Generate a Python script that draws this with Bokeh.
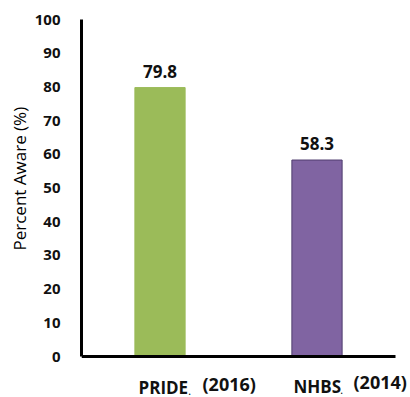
from bokeh.plotting import figure
from bokeh.models import ColumnDataSource, Range1d, FixedTicker, LabelSet, Label, Title
from bokeh.core.properties import value
from bokeh.embed import file_html
from bokeh.resources import INLINE

# Awareness survey results
sources = ["PRIDE", "NHBS"]
years = ["(2016)", "(2014)"]
percent_aware = [79.8, 58.3]
bar_colors = ["#9BBB59", "#8064A2"]
bar_outlines = ["#9BBB59", "#4F3D6E"]
y_ticks = [0, 10, 20, 30, 40, 50, 60, 70, 80, 90, 100]

FONT = "Open Sans"
TEXT = "#111111"

# 0..100 spans 337 px; the frame continues 41 px under the baseline so the
# category names can sit inside it, and 15 px past the last bar slot
PX_PER_UNIT_Y = 337 / 100
y_floor = -41 / PX_PER_UNIT_Y
n = len(sources)
x_end = n * 329 / 314

x_pos = [i + 0.5 for i in range(n)]
src = ColumnDataSource(dict(
    x=x_pos,
    top=percent_aware,
    color=bar_colors,
    outline=bar_outlines,
    label=[f"{v:.1f}" for v in percent_aware],
))

p = figure(
    width=410, height=397,
    x_range=Range1d(0, x_end), y_range=Range1d(y_floor, 100),
    x_axis_location=None,
    output_backend="svg", toolbar_location=None,
    min_border_left=81, min_border_right=0,
    min_border_top=19, min_border_bottom=0,
)
p.outline_line_color = None
p.grid.visible = False
p.background_fill_color = "white"
p.border_fill_color = "white"

p.vbar(x="x", top="top", width=0.32, bottom=0, source=src,
       fill_color="color", line_color="outline", line_width=1)

# category axis baseline
p.segment(x0=[0], y0=[0], x1=[n], y1=[0], line_color="black", line_width=3)

# value labels above each bar
p.add_layout(LabelSet(x="x", y="top", text="label", source=src,
                      y_offset=10, text_align="center",
                      text_baseline="alphabetic",
                      text_font=value(FONT), text_font_style="bold",
                      text_font_size="17px", text_color=TEXT))

# y axis, line limited to 0..100
p.yaxis.bounds = (0, 100)
p.yaxis.ticker = FixedTicker(ticks=y_ticks)
p.yaxis.axis_line_width = 3
p.yaxis.axis_line_color = "black"
p.yaxis.major_tick_line_color = None
p.yaxis.minor_tick_line_color = None
p.yaxis.major_label_standoff = 15
p.yaxis.major_label_text_font = FONT
p.yaxis.major_label_text_font_style = "bold"
p.yaxis.major_label_text_font_size = "15px"
p.yaxis.major_label_text_color = TEXT

# axis title, started from the bottom of the frame and lifted onto the 0..100 span
p.add_layout(Title(text="Percent Aware (%)", align="left", offset=147,
                   text_font=FONT, text_font_style="normal",
                   text_font_size="17px", text_color="#000000",
                   standoff=2), "left")

# category names under the baseline: name, a small period, then the year
name_dx = [-21.5, -23.5]
name_dy = [-30.5, -29.5]
dot_dx = [28.5, 23.5]
dot_dy = [-35, -34]
year_dx = [42.5, 36.5]
year_dy = [-27.5, -25.5]
for i, (name, yr) in enumerate(zip(sources, years)):
    xc = x_pos[i]
    p.add_layout(Label(x=xc, y=0, text=name, x_offset=name_dx[i], y_offset=name_dy[i],
                       text_align="left", text_baseline="middle",
                       text_font=FONT, text_font_style="bold",
                       text_font_size="17px", text_color=TEXT))
    p.add_layout(Label(x=xc, y=0, text=".", x_offset=dot_dx[i], y_offset=dot_dy[i],
                       text_align="left", text_baseline="middle",
                       text_font=FONT, text_font_style="bold",
                       text_font_size="8px", text_color=TEXT))
    p.add_layout(Label(x=xc, y=0, text=yr, x_offset=year_dx[i], y_offset=year_dy[i],
                       text_align="left", text_baseline="middle",
                       text_font=FONT, text_font_style="bold",
                       text_font_size="18px", text_color=TEXT))

open("out.html", "w").write(file_html(p, INLINE))
